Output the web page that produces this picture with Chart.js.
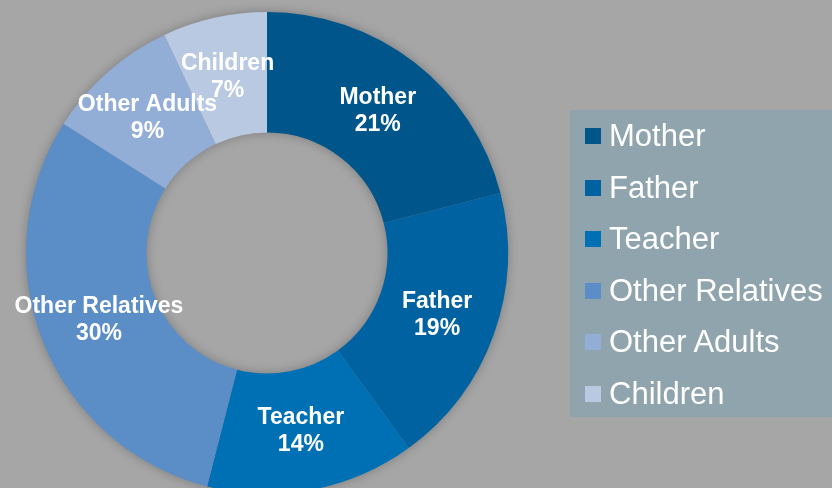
<!DOCTYPE html>
<html>
<head>
<meta charset="utf-8">
<script src="https://cdn.jsdelivr.net/npm/chart.js@4.4.1/dist/chart.umd.min.js"></script>
<style>
  html, body { margin: 0; padding: 0; background: #a6a6a6; }
  #wrap { position: relative; width: 832px; height: 488px; overflow: hidden; }
  #chart { position: absolute; left: 0; top: 0; }
  #legend {
    position: absolute; left: 570px; top: 110px; width: 262px; height: 307px;
    background: #8fa4ad; font-family: "Liberation Sans", Arial, sans-serif;
    font-size: 31px; color: #ffffff; box-sizing: border-box; padding-top: 0;
  }
  .item { position: relative; height: 51.5px; line-height: 51.5px; padding-left: 39px; white-space: nowrap; }
  .box { position: absolute; left: 15px; top: 18px; width: 16px; height: 16px; }
</style>
</head>
<body>
<div id="wrap">
  <canvas id="chart" width="832" height="500"></canvas>
  <div id="legend"></div>
</div>
<script>
// Data
const categories = ["Mother", "Father", "Teacher", "Other Relatives", "Other Adults", "Children"];
const shares = [21, 19, 14, 30, 9, 7];
const colors = ["#00568a", "#0062a0", "#0070b4", "#5b8dc7", "#93aed6", "#b9c9e2"];

// Legend (HTML)
const legendEl = document.getElementById("legend");
legendEl.innerHTML = categories
  .map((c, i) => `<div class="item"><span class="box" style="background:${colors[i]}"></span>${c}</div>`)
  .join("");

// Soft shadow under the ring
const ringShadow = {
  id: "ringShadow",
  beforeDatasetsDraw(chart) {
    const arc = chart.getDatasetMeta(0).data[0];
    if (!arc) return;
    const { x, y, outerRadius, innerRadius } = arc.getProps(["x", "y", "outerRadius", "innerRadius"], true);
    const ctx = chart.ctx;
    ctx.save();
    ctx.shadowColor = "rgba(0,0,0,0.3)";
    ctx.shadowBlur = 12;
    ctx.fillStyle = "#7a8a99";
    ctx.beginPath();
    ctx.arc(x, y, outerRadius - 1, 0, Math.PI * 2);
    ctx.arc(x, y, innerRadius + 1, 0, Math.PI * 2, true);
    ctx.fill();
    ctx.restore();
  },
};

// Labels inside the slices
const sliceLabels = {
  id: "sliceLabels",
  afterDatasetsDraw(chart) {
    const ctx = chart.ctx;
    const meta = chart.getDatasetMeta(0);
    ctx.save();
    ctx.fillStyle = "#ffffff";
    ctx.font = "bold 23px 'Liberation Sans', Arial, sans-serif";
    ctx.textAlign = "center";
    ctx.textBaseline = "middle";
    meta.data.forEach((el, i) => {
      const p = el.tooltipPosition(true);
      ctx.fillText(categories[i], p.x, p.y - 13);
      ctx.fillText(shares[i] + "%", p.x, p.y + 14);
    });
    ctx.restore();
  },
};

new Chart(document.getElementById("chart"), {
  type: "doughnut",
  data: {
    labels: categories,
    datasets: [
      {
        data: shares,
        backgroundColor: colors,
        borderWidth: 0,
      },
    ],
  },
  options: {
    responsive: false,
    animation: false,
    cutout: "50%",
    layout: { padding: { left: 26, top: 12, right: 324, bottom: 6 } },
    plugins: {
      legend: { display: false },
      tooltip: { enabled: false },
    },
  },
  plugins: [ringShadow, sliceLabels],
});
</script>
</body>
</html>
